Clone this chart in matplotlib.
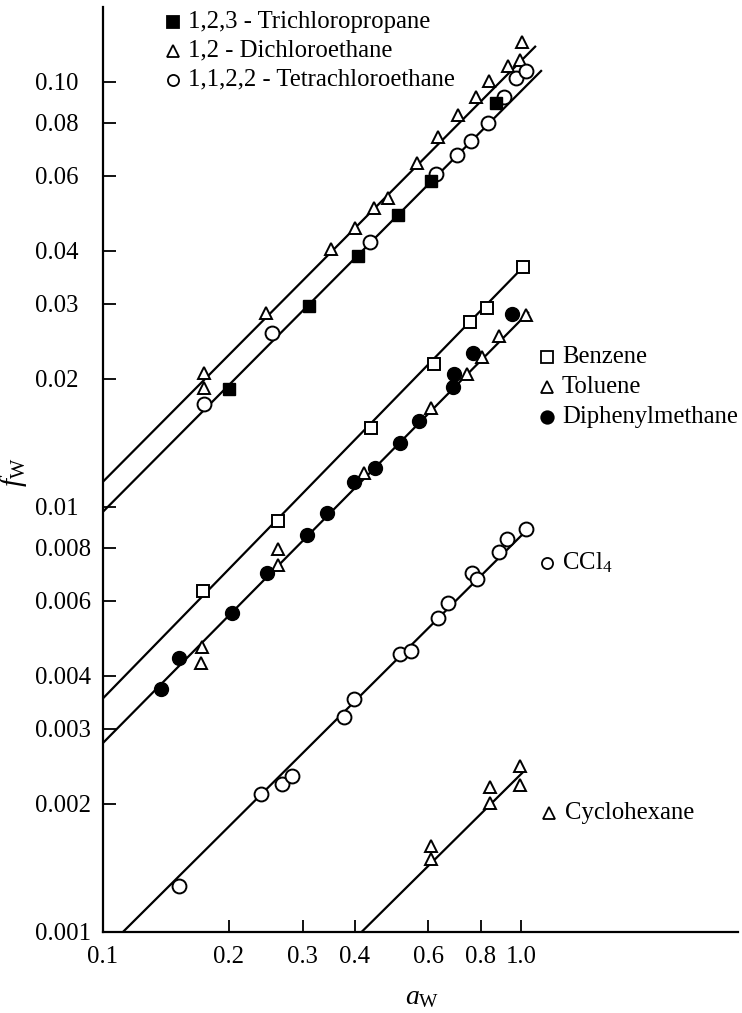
import matplotlib
matplotlib.use("Agg")
import matplotlib.pyplot as plt

plt.rcParams['font.family'] = ['Liberation Serif', 'DejaVu Serif']
plt.rcParams['mathtext.fontset'] = 'custom'
plt.rcParams['mathtext.rm'] = 'Liberation Serif'
plt.rcParams['mathtext.it'] = 'Liberation Serif:italic'

### dados (a_w, f_w)
dce_aw = [0.174, 0.174, 0.246, 0.351, 0.401, 0.445, 0.481, 0.564, 0.633, 0.707, 0.780, 0.838, 0.931, 0.995, 1.006]
dce_fw = [0.0206, 0.0190, 0.0286, 0.0404, 0.0453, 0.0504, 0.0533, 0.0644, 0.0741, 0.0835, 0.0920, 0.1004, 0.1089, 0.1125, 0.124]

tcp_aw = [0.200, 0.311, 0.407, 0.508, 0.609, 0.871]
tcp_fw = [0.0189, 0.0297, 0.0389, 0.0486, 0.0584, 0.0891]

tce_aw = [0.174, 0.254, 0.435, 0.626, 0.703, 0.759, 0.834, 0.911, 0.973, 1.028]
tce_fw = [0.0174, 0.0256, 0.0420, 0.0606, 0.0672, 0.0725, 0.0800, 0.0920, 0.102, 0.106]

benz_aw = [0.1735, 0.262, 0.438, 0.619, 0.755, 0.829, 1.011]
benz_fw = [0.00633, 0.00926, 0.0153, 0.0217, 0.0272, 0.0294, 0.0366]

tol_aw = [0.1725, 0.1716, 0.262, 0.262, 0.421, 0.609, 0.743, 0.807, 0.886, 1.028]
tol_fw = [0.00468, 0.00429, 0.00795, 0.00729, 0.0120, 0.0171, 0.0205, 0.0225, 0.0252, 0.0283]

dpm_aw = [0.1376, 0.152, 0.2035, 0.2468, 0.3076, 0.3436, 0.3986, 0.4474, 0.5135, 0.5702, 0.6876, 0.6914, 0.7677, 0.9513]
dpm_fw = [0.00373, 0.00441, 0.00562, 0.00698, 0.00858, 0.00967, 0.0114, 0.0123, 0.0141, 0.0159, 0.0191, 0.0205, 0.0230, 0.0284]

ccl4_aw = [0.152, 0.239, 0.268, 0.283, 0.376, 0.399, 0.514, 0.546, 0.632, 0.670, 0.762, 0.786, 0.883, 0.927, 1.026]
ccl4_fw = [0.00128, 0.00211, 0.00222, 0.00233, 0.00320, 0.00352, 0.00450, 0.00458, 0.00546, 0.00593, 0.00699, 0.00675, 0.00781, 0.00838, 0.00885]

chx_aw = [0.608, 0.609, 0.843, 0.843, 0.995, 0.995]
chx_fw = [0.00159, 0.00148, 0.00219, 0.00201, 0.00245, 0.00221]

# retas ajustadas (extremos)
line_dce_x, line_dce_y = [0.1, 1.08], [0.01145, 0.1209]
line_tce_x, line_tce_y = [0.1, 1.116], [0.00973, 0.106]
line_benz_x, line_benz_y = [0.1, 1.032], [0.00354, 0.0374]
line_tol_x, line_tol_y = [0.1, 1.039], [0.00278, 0.0286]
line_ccl4_x, line_ccl4_y = [0.1118, 1.051], [0.001, 0.00897]
line_chx_x, line_chx_y = [0.416, 1.013], [0.001, 0.00238]

xticks = [0.1, 0.2, 0.3, 0.4, 0.6, 0.8, 1.0]
xlabels = ['0.1', '0.2', '0.3', '0.4', '0.6', '0.8', '1.0']
yticks = [0.001, 0.002, 0.003, 0.004, 0.006, 0.008, 0.01, 0.02, 0.03, 0.04, 0.06, 0.08, 0.10]
ylabels = ['0.001', '0.002', '0.003', '0.004', '0.006', '0.008', '0.01', '0.02', '0.03', '0.04', '0.06', '0.08', '0.10']

FS = 17.8

fig = plt.figure(figsize=(7.42, 10.13), dpi=100)
ax = fig.add_axes([0.1388, 0.0803, 0.8558, 0.9128])
ax.set_xscale('log')
ax.set_yscale('log')
ax.set_xlim(0.1, 3.30)
ax.set_ylim(0.001, 0.1499)

for lx, ly in [(line_dce_x, line_dce_y), (line_tce_x, line_tce_y), (line_benz_x, line_benz_y),
               (line_tol_x, line_tol_y), (line_ccl4_x, line_ccl4_y), (line_chx_x, line_chx_y)]:
	ax.plot(lx, ly, color='black', lw=1.6, zorder=2)

open_kw = dict(ls='none', mfc='white', mec='black', mew=1.4, zorder=3, clip_on=False)
fill_kw = dict(ls='none', mfc='black', mec='black', mew=1.0, zorder=3, clip_on=False)

ax.plot(dce_aw, dce_fw, marker='^', ms=9, **open_kw)
ax.plot(tce_aw, tce_fw, marker='o', ms=10, **open_kw)
ax.plot(tcp_aw, tcp_fw, marker='s', ms=8.5, **fill_kw)
ax.plot(benz_aw, benz_fw, marker='s', ms=9, **open_kw)
ax.plot(tol_aw, tol_fw, marker='^', ms=9, **open_kw)
ax.plot(dpm_aw, dpm_fw, marker='o', ms=10, **fill_kw)
ax.plot(ccl4_aw, ccl4_fw, marker='o', ms=10, **open_kw)
ax.plot(chx_aw, chx_fw, marker='^', ms=9, **open_kw)

# eixos
ax.spines['top'].set_visible(False)
ax.spines['right'].set_visible(False)
ax.spines['left'].set_linewidth(1.6)
ax.spines['bottom'].set_linewidth(1.6)
ax.set_xticks(xticks, xlabels)
ax.set_yticks(yticks, ylabels)
ax.minorticks_off()
ax.tick_params(axis='x', direction='in', length=8.6, width=1.3, pad=10, labelsize=FS)
ax.tick_params(axis='y', direction='in', length=9.4, width=1.3, pad=49, labelsize=FS)
for t in ax.get_yticklabels():
	t.set_ha('left')

fig.text(13.5 / 742, 1 - 472 / 1013, r'$f_{\mathrm{W}}$', rotation=90, ha='center', va='center', fontsize=21)
fig.text(422 / 742, 1 - 998 / 1013, r'$a_{\mathrm{W}}$', ha='center', va='center', fontsize=20)

# legendas escritas
leg_kw = dict(transform=ax.transAxes, clip_on=False, ls='none')
def legenda(xm, xt, y, marker, fill, texto, ms=8):
	ax.plot([xm], [y], marker=marker, ms=ms, mfc='black' if fill else 'white', mec='black', mew=1.3, **leg_kw)
	ax.text(xt, y, texto, transform=ax.transAxes, ha='left', va='center', fontsize=FS)

legenda(0.1102, 0.1339, 0.9841, 's', True, '1,2,3 - Trichloropropane')
legenda(0.1102, 0.1339, 0.9527, '^', False, '1,2 - Dichloroethane')
legenda(0.1102, 0.1339, 0.9211, 'o', False, '1,1,2,2 - Tetrachloroethane')
legenda(0.6992, 0.7228, 0.6218, 's', False, 'Benzene')
legenda(0.6992, 0.7228, 0.5887, '^', False, 'Toluene')
legenda(0.6992, 0.7228, 0.5569, 'o', True, 'Diphenylmethane', ms=9)
legenda(0.6992, 0.7228, 0.3987, 'o', False, r'CCl$_4$')
legenda(0.7024, 0.7276, 0.1287, '^', False, 'Cyclohexane')

fig.savefig('out.png', dpi=100)
